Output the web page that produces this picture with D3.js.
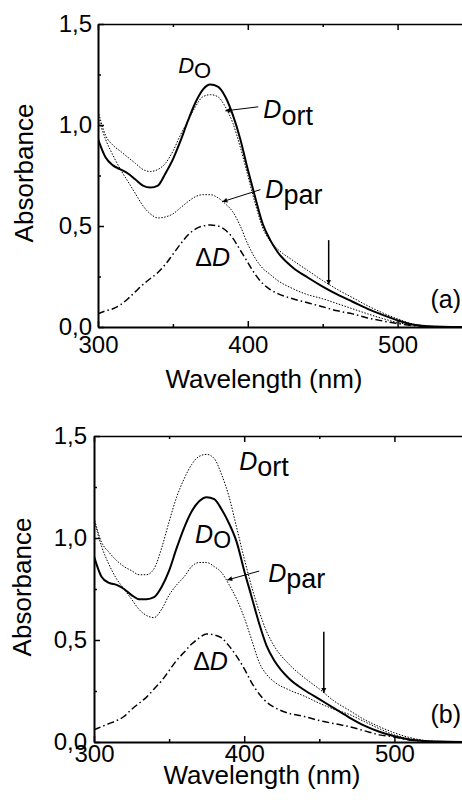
<!DOCTYPE html>
<html>
<head>
<meta charset="utf-8">
<script src="https://cdn.jsdelivr.net/npm/d3@7"></script>
<style>
  body { margin: 0; background: #fff; }
  svg { display: block; }
  text { font-family: "Liberation Sans", Arial, sans-serif; fill: #000; }
</style>
</head>
<body>
<div id="chart"></div>
<script>
// wavelength grid (nm)
const wavelengths = [300, 305, 310, 315, 320, 325, 330, 335, 340, 345, 350, 355, 360, 365, 370, 375, 380, 385, 390, 395,
    400, 405, 410, 415, 420, 430, 440, 450, 460, 470, 480, 490, 500, 510, 520, 530, 545];

// panel (a)
const aD0 = [0.93, 0.84, 0.80, 0.78, 0.76, 0.73, 0.70, 0.69, 0.70, 0.76, 0.83, 0.92, 1.02, 1.11, 1.175, 1.20, 1.19, 1.14, 1.05, 0.93,
    0.78, 0.64, 0.51, 0.43, 0.37, 0.295, 0.245, 0.20, 0.16, 0.125, 0.09, 0.06, 0.033, 0.012, 0.004, 0.001, 0];
const aDort = [1.07, 0.95, 0.90, 0.87, 0.84, 0.81, 0.78, 0.77, 0.78, 0.81, 0.87, 0.95, 1.02, 1.09, 1.14, 1.15, 1.14, 1.09, 1.01, 0.89,
    0.75, 0.61, 0.49, 0.425, 0.385, 0.33, 0.28, 0.23, 0.185, 0.145, 0.105, 0.07, 0.04, 0.015, 0.005, 0.001, 0];
const aDpar = [1.04, 0.93, 0.85, 0.78, 0.72, 0.66, 0.60, 0.56, 0.54, 0.545, 0.56, 0.59, 0.62, 0.645, 0.655, 0.655, 0.64, 0.61, 0.57, 0.50,
    0.41, 0.34, 0.29, 0.26, 0.23, 0.19, 0.16, 0.14, 0.115, 0.09, 0.065, 0.042, 0.022, 0.01, 0.003, 0.001, 0];
const aDelta = [0.065, 0.08, 0.09, 0.11, 0.14, 0.175, 0.21, 0.24, 0.27, 0.31, 0.36, 0.41, 0.455, 0.485, 0.50, 0.505, 0.50, 0.48, 0.44, 0.38,
    0.32, 0.26, 0.215, 0.185, 0.165, 0.14, 0.12, 0.10, 0.08, 0.065, 0.045, 0.03, 0.017, 0.007, 0.002, 0.001, 0];

// panel (b)
const bD0 = [0.91, 0.81, 0.78, 0.77, 0.75, 0.72, 0.70, 0.70, 0.71, 0.76, 0.84, 0.95, 1.05, 1.13, 1.18, 1.20, 1.19, 1.14, 1.07, 0.98,
    0.84, 0.71, 0.58, 0.47, 0.40, 0.31, 0.255, 0.21, 0.165, 0.12, 0.08, 0.05, 0.028, 0.012, 0.005, 0.002, 0];
const bDort = [1.10, 0.98, 0.93, 0.89, 0.86, 0.84, 0.82, 0.82, 0.85, 0.95, 1.08, 1.20, 1.29, 1.36, 1.40, 1.41, 1.39, 1.31, 1.20, 1.05,
    0.90, 0.76, 0.64, 0.54, 0.47, 0.38, 0.315, 0.26, 0.20, 0.155, 0.11, 0.075, 0.045, 0.022, 0.008, 0.003, 0];
const bDpar = [1.09, 0.96, 0.87, 0.80, 0.75, 0.70, 0.65, 0.62, 0.61, 0.65, 0.72, 0.77, 0.81, 0.86, 0.88, 0.88, 0.86, 0.83, 0.77, 0.70,
    0.61, 0.50, 0.39, 0.33, 0.295, 0.255, 0.225, 0.19, 0.16, 0.135, 0.10, 0.065, 0.035, 0.015, 0.005, 0.002, 0];
const bDelta = [0.06, 0.075, 0.09, 0.105, 0.125, 0.16, 0.19, 0.22, 0.26, 0.30, 0.35, 0.40, 0.44, 0.48, 0.51, 0.53, 0.525, 0.51, 0.47, 0.42,
    0.36, 0.29, 0.235, 0.195, 0.17, 0.14, 0.125, 0.105, 0.09, 0.075, 0.055, 0.035, 0.025, 0.01, 0.004, 0.001, 0];

// axis ticks
const yTicks = [0, 0.5, 1.0, 1.5];
const yMinorTicks = [0.25, 0.75, 1.25];
const xTicks = [300, 400, 500];
const xMinorTicks = [350, 450];

const styles = [
    { width: 2, dash: null },            // D0
    { width: 1, dash: "1.5,1.5" },       // Dort
    { width: 1, dash: "1.5,1.5" },       // Dpar
    { width: 1.5, dash: "7,3,1.5,3" }    // delta D
];

const panels = [
    {
        left: 98, top: 24, bottom: 327, xMax: 543, yPad: 6, xPad: 9,
        series: [aD0, aDort, aDpar, aDelta],
        yTitle: [33, 173], xTitle: [264, 388],
        labels: [
            { main: "D", sub: "O", wl: 353.5, val: 1.257, size: 22, subSize: 22, dy: 5 },
            { main: "D", sub: "ort", wl: 410.4, val: 1.035, size: 25, subSize: 27, dy: 7 },
            { main: "D", sub: "par", wl: 411.7, val: 0.64, size: 25, subSize: 27, dy: 6 },
            { delta: true, wl: 365, val: 0.30, size: 25 }
        ],
        leaders: [
            { from: [385, 1.07], to: [407, 1.09] },
            { from: [383, 0.62], to: [408.4, 0.68] }
        ],
        arrow: { wl: 454, from: 0.43, to: 0.21 },
        tag: "(a)", tagVal: 0.094
    },
    {
        left: 94, top: 436, bottom: 742, xMax: 545, yPad: 7, xPad: 3,
        series: [bD0, bDort, bDpar, bDelta],
        yTitle: [31, 587], xTitle: [262, 784],
        labels: [
            { main: "D", sub: "ort", wl: 396.7, val: 1.333, size: 25, subSize: 27, dy: 6 },
            { main: "D", sub: "O", wl: 367.3, val: 0.975, size: 25, subSize: 23, dy: 5 },
            { main: "D", sub: "par", wl: 416, val: 0.784, size: 25, subSize: 27, dy: 6 },
            { delta: true, wl: 366, val: 0.353, size: 25 }
        ],
        leaders: [
            { from: [388.7, 0.794], to: [410, 0.838] }
        ],
        arrow: { wl: 453, from: 0.54, to: 0.24 },
        tag: "(b)", tagVal: 0.093
    }
];

const W = 462, H = 800;
const svg = d3.select("#chart").append("svg")
    .attr("width", W)
    .attr("height", H);

const defs = svg.append("defs");
defs.append("marker")
    .attr("id", "head")
    .attr("viewBox", "0 0 10 10")
    .attr("refX", 10).attr("refY", 5)
    .attr("markerWidth", 5).attr("markerHeight", 8)
    .attr("markerUnits", "userSpaceOnUse")
    .attr("orient", "auto")
    .append("path").attr("d", "M0,0L10,5L0,10Z").attr("fill", "#000");
defs.append("marker")
    .attr("id", "small")
    .attr("viewBox", "0 0 10 10")
    .attr("refX", 10).attr("refY", 5)
    .attr("markerWidth", 6).attr("markerHeight", 5)
    .attr("markerUnits", "userSpaceOnUse")
    .attr("orient", "auto")
    .append("path").attr("d", "M0,0L10,5L0,10Z").attr("fill", "#000");

const fmt = d => d3.format(".1f")(d).replace(".", ",");

panels.forEach((p, pi) => drawPanel(p, pi));

function drawPanel(p, pi) {
    const x = d3.scaleLinear().domain([300, p.xMax]).range([p.left, W]);
    const y = d3.scaleLinear().domain([0, 1.5]).range([p.bottom, p.top]);

    defs.append("clipPath").attr("id", "clip" + pi)
        .append("rect")
        .attr("x", p.left).attr("y", p.top)
        .attr("width", W - p.left).attr("height", p.bottom - p.top);

    const line = d3.line()
        .x((d, i) => x(wavelengths[i]))
        .y(d => y(d))
        .curve(d3.curveMonotoneX);

    // curves
    const plot = svg.append("g").attr("clip-path", `url(#clip${pi})`);
    p.series.forEach((s, i) => {
        plot.append("path")
            .datum(s)
            .attr("d", line)
            .attr("fill", "none")
            .attr("stroke", "#000")
            .attr("stroke-width", styles[i].width)
            .attr("stroke-dasharray", styles[i].dash)
            .attr("stroke-linejoin", "round");
    });

    // axes
    const styleAxis = (g, w) => {
        g.selectAll("path.domain").attr("stroke-width", w);
        g.selectAll("line").attr("stroke-width", 1.5);
        g.selectAll("text").attr("font-size", 24).attr("font-family", '"Liberation Sans", Arial, sans-serif');
    };

    svg.append("g")
        .attr("transform", `translate(0,${p.bottom})`)
        .call(d3.axisBottom(x).tickValues(xTicks).tickSize(-6).tickSizeOuter(0).tickPadding(p.xPad).tickFormat(d3.format("d")))
        .call(g => styleAxis(g, 2));
    svg.append("g")
        .attr("transform", `translate(0,${p.bottom})`)
        .call(d3.axisBottom(x).tickValues(xMinorTicks).tickSize(-3).tickFormat(""))
        .call(g => g.select(".domain").remove())
        .call(g => styleAxis(g, 0));

    svg.append("g")
        .attr("transform", `translate(0,${p.top})`)
        .call(d3.axisTop(x).tickValues(xTicks).tickSize(-6).tickSizeOuter(0).tickFormat(""))
        .call(g => styleAxis(g, 1.5));
    svg.append("g")
        .attr("transform", `translate(0,${p.top})`)
        .call(d3.axisTop(x).tickValues(xMinorTicks).tickSize(-3).tickFormat(""))
        .call(g => g.select(".domain").remove())
        .call(g => styleAxis(g, 0));

    svg.append("g")
        .attr("transform", `translate(${p.left},0)`)
        .call(d3.axisLeft(y).tickValues(yTicks).tickSize(-6).tickSizeOuter(0).tickPadding(p.yPad).tickFormat(fmt))
        .call(g => styleAxis(g, 2));
    svg.append("g")
        .attr("transform", `translate(${p.left},0)`)
        .call(d3.axisLeft(y).tickValues(yMinorTicks).tickSize(-3).tickFormat(""))
        .call(g => g.select(".domain").remove())
        .call(g => styleAxis(g, 0));

    // axis titles
    svg.append("text")
        .attr("transform", `translate(${p.yTitle[0]},${p.yTitle[1]}) rotate(-90)`)
        .attr("text-anchor", "middle")
        .attr("font-size", 26)
        .text("Absorbance");
    svg.append("text")
        .attr("x", p.xTitle[0])
        .attr("y", p.xTitle[1])
        .attr("text-anchor", "middle")
        .attr("font-size", 26)
        .text("Wavelength (nm)");

    // curve labels
    p.labels.forEach(l => {
        const t = svg.append("text")
            .attr("x", x(l.wl))
            .attr("y", y(l.val))
            .attr("font-size", l.size);
        if (l.delta) {
            t.append("tspan").text("\u0394");
            t.append("tspan").attr("font-style", "italic").text("D");
        } else {
            t.append("tspan").attr("font-style", "italic").text(l.main);
            t.append("tspan").attr("dy", l.dy).attr("font-size", l.subSize).text(l.sub);
        }
    });

    // leader lines
    p.leaders.forEach(l => {
        svg.append("line")
            .attr("x1", x(l.to[0])).attr("y1", y(l.to[1]))
            .attr("x2", x(l.from[0])).attr("y2", y(l.from[1]))
            .attr("stroke", "#000")
            .attr("stroke-width", 1)
            .attr("marker-end", "url(#small)");
    });

    // vertical arrow
    svg.append("line")
        .attr("x1", x(p.arrow.wl)).attr("y1", y(p.arrow.from))
        .attr("x2", x(p.arrow.wl)).attr("y2", y(p.arrow.to))
        .attr("stroke", "#000")
        .attr("stroke-width", 1.5)
        .attr("marker-end", "url(#head)");

    // panel tag
    svg.append("text")
        .attr("x", W - 1)
        .attr("y", y(p.tagVal))
        .attr("text-anchor", "end")
        .attr("font-size", 25)
        .text(p.tag);
}
</script>
</body>
</html>
